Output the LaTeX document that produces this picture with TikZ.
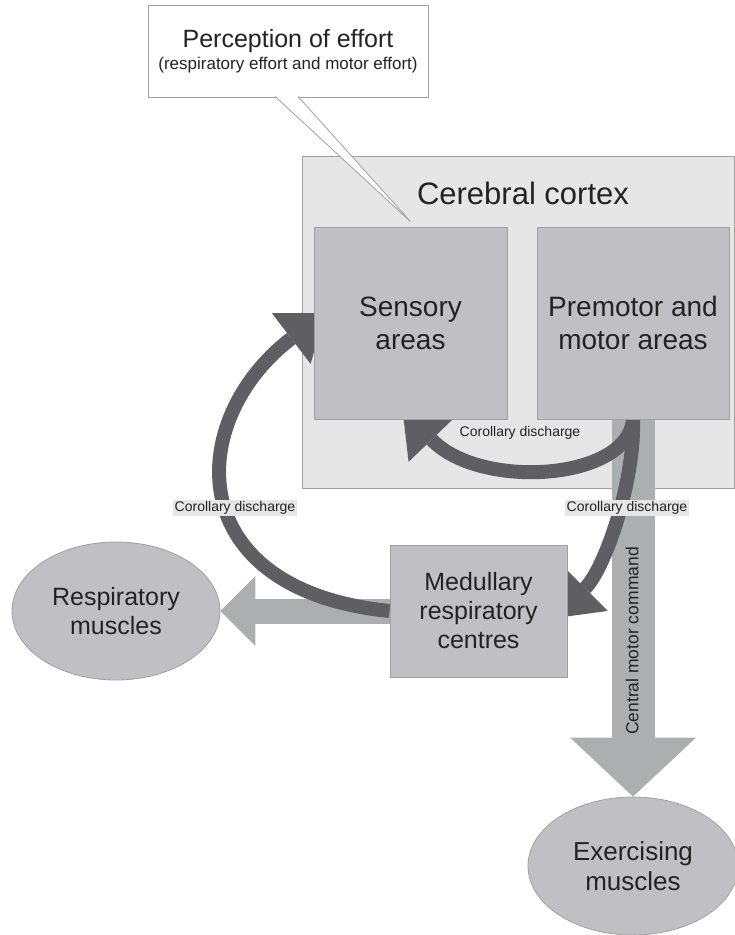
\documentclass[tikz,border=0pt]{standalone}
\usepackage{fontspec}
\setmainfont{Liberation Sans}
\usepackage{xcolor}
\usetikzlibrary{arrows.meta}
\usetikzlibrary{shapes.geometric}

\definecolor{cortexgray}{RGB}{230,230,230}
\definecolor{boxgray}{RGB}{192,192,196}
\definecolor{lightarrow}{RGB}{172,175,175}
\definecolor{darkarrow}{RGB}{94,94,99}
\definecolor{edgegray}{RGB}{160,160,160}
\definecolor{textgray}{RGB}{35,35,35}

\pgfdeclarelayer{back}
\pgfdeclarelayer{flow}
\pgfsetlayers{back,flow,main}

\begin{document}
\begin{tikzpicture}[x=1pt, y=-1pt,
	areabox/.style={draw=edgegray, line width=0.8pt, fill=boxgray, align=center, text=textgray},
	muscle/.style={ellipse, draw=edgegray, line width=0.8pt, fill=boxgray, align=center, text=textgray, font=\fontsize{25}{29}\selectfont},
	bigarrow/.style={draw=lightarrow},
	corollary/.style={draw=darkarrow, line width=14pt, -{Triangle[length=42pt, width=64pt, line width=0pt]}},
	cdlabel/.style={fill=cortexgray, inner sep=1.5pt, text=textgray, font=\fontsize{14}{16}\selectfont}]

		\useasboundingbox (0,0) rectangle (735,935);

		\begin{pgfonlayer}{back}
		\node[draw=edgegray, line width=0.8pt, fill=cortexgray, minimum width=432pt, minimum height=332pt] (cortex) at (518,322) {};
		\end{pgfonlayer}

		\node[text=textgray, font=\fontsize{31}{36}\selectfont] (cortexlabel) at (523,193) {Cerebral cortex};

		\node[areabox, minimum width=193pt, minimum height=192pt, font=\fontsize{28}{33}\selectfont] (sensory) at (410.5,323) {Sensory\\areas};

		\node[areabox, minimum width=192pt, minimum height=192pt, font=\fontsize{28}{33}\selectfont] (premotor) at (633,323) {Premotor and\\motor areas};

		\node[areabox, minimum width=177pt, minimum height=132pt, font=\fontsize{25}{29}\selectfont] (medullary) at (478.5,611) {Medullary\\respiratory\\centres};

		\node[muscle, minimum width=208pt, minimum height=138pt] (respiratory) at (116,611) {Respiratory\\muscles};

		\node[muscle, minimum width=210pt, minimum height=138pt, font=\fontsize{26}{30}\selectfont] (exercising) at (633,866) {Exercising\\muscles};

		% callout
		\node[draw=edgegray, line width=0.8pt, fill=white, minimum width=280pt, minimum height=92pt, align=center, text=textgray, font=\fontsize{25}{22}\selectfont] (perception) at (288,51) {Perception of effort\\{\fontsize{17}{22}\selectfont (respiratory effort and motor effort)}};
		\coordinate (tailL) at ([xshift=-13pt, yshift=1pt]perception.south);
		\coordinate (tailR) at ([xshift=10pt, yshift=1pt]perception.south);
		\coordinate (tailtip) at ([yshift=5pt]sensory.north);
		\fill[white] (tailL) -- (tailtip) -- (tailR) -- cycle;
		\draw[edgegray, line width=0.8pt] (tailL) -- (tailtip) -- (tailR);

		\begin{pgfonlayer}{flow}
		\draw[bigarrow, line width=25pt, -{Triangle[length=35pt, width=70pt, line width=0pt]}] (medullary.west) -- (respiratory.east);
		\draw[bigarrow, line width=43pt, -{Triangle[length=59pt, width=126pt, line width=0pt]}] (premotor.south) -- (exercising.north);

		\draw[corollary] (premotor.south) .. controls +(-5,61) and +(78,81) .. ([shift={(-8,-10)}]sensory.south);
		\draw[corollary] (premotor.south) .. controls +(2,61) and +(50,-50) .. ([shift={(-12,7)}]medullary.east);
		\draw[corollary] (medullary.west) .. controls +(-210,-21) and +(-140,107) .. ([shift={(11,-10)}]sensory.west);
		\end{pgfonlayer}

		\node[cdlabel] (cdtop) at (520,433) {Corollary discharge};
		\node[cdlabel] (cdright) at (627,508) {Corollary discharge};
		\node[cdlabel] (cdleft) at (235,508) {Corollary discharge};

		\node[rotate=90, text=textgray, font=\fontsize{17.5}{20}\selectfont] (command) at (632,641) {Central motor command};

	\end{tikzpicture}
\end{document}
